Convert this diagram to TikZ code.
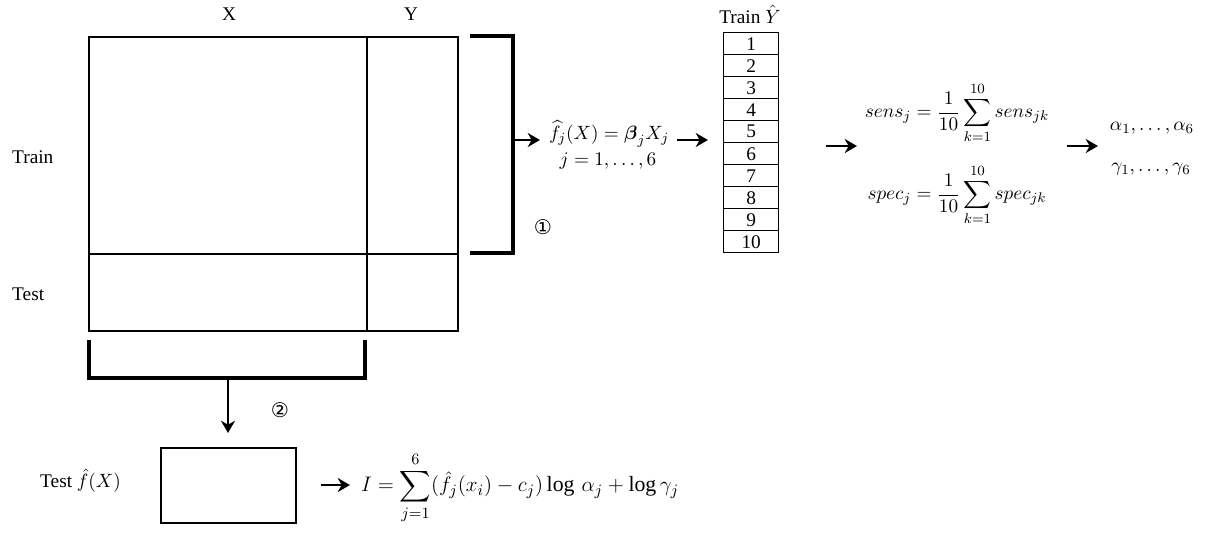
\documentclass[tikz,border=0pt]{standalone}
\usepackage{amsmath,amssymb}
\usepackage{fontspec}
\setmainfont{Liberation Serif}
\newfontfamily\circfont{DejaVu Sans}
\usetikzlibrary{arrows.meta}

\begin{document}
\begin{tikzpicture}[x=0.02cm, y=-0.02cm, font=\fontsize{11}{13}\selectfont,
    >={Stealth[length=7pt, width=8pt]},
    cell/.style={draw, line width=1.1pt, inner sep=0pt, anchor=north west},
    row/.style={draw, line width=0.8pt, inner sep=0pt, anchor=north west,
                minimum width=1.1cm, minimum height=0.44cm},
    brk/.style={line width=1.8pt},
    arr/.style={->, line width=1.6pt},
    num/.style={font=\circfont\fontsize{11.5}{13}\selectfont}]
  \useasboundingbox (0,0) rectangle (1206,532);

  % data matrix
  \node[cell, minimum width=5.56cm, minimum height=4.34cm] (trX) at (88,36) {};
  \node[cell, minimum width=1.82cm, minimum height=4.34cm] (trY) at (366,36) {};
  \node[cell, minimum width=5.56cm, minimum height=1.54cm] (teX) at (88,253) {};
  \node[cell, minimum width=1.82cm, minimum height=1.54cm] (teY) at (366,253) {};
  \node (lx) at (229,14) {X};
  \node (ly) at (411,14) {Y};
  \node[anchor=west] (ltr) at (6,157) {Train};
  \node[anchor=west] (lte) at (6,294) {Test};

  % step 1
  \draw[brk] (470,36) -- (513,36) -- (513,253) -- (470,253);
  \coordinate (b1) at (513,140);
  \coordinate (b1e) at (540,140);
  \draw[arr] (b1) -- (b1e);
  \node[num] (c1) at (543,227) {①};
  \node (fx) at (609,134) {$\widehat{f}_j(X) = \boldsymbol{\beta}_j X_j$};
  \node (fj) at (608,161) {$j = 1, \dots, 6$};
  \coordinate (a2s) at (677,140);
  \coordinate (a2e) at (708,140);
  \draw[arr] (a2s) -- (a2e);

  \node (lyh) at (750,14) {Train $\hat{Y}$};
  \foreach \k in {1,...,10}
    \node[row] (r\k) at (723, {32+22*(\k-1)}) {\k};

  \coordinate (a3s) at (826,146);
  \coordinate (a3e) at (857,146);
  \draw[arr] (a3s) -- (a3e);
  \node (sens) at (957,113)
    {$sens_j = \dfrac{1}{10}\displaystyle\sum_{k=1}^{10} sens_{jk}$};
  \node (spec) at (957,195)
    {$spec_j = \dfrac{1}{10}\displaystyle\sum_{k=1}^{10} spec_{jk}$};
  \coordinate (a4s) at (1067,146);
  \coordinate (a4e) at (1098,146);
  \draw[arr] (a4s) -- (a4e);
  \node (al) at (1152,128) {$\alpha_1, \dots, \alpha_6$};
  \node (ga) at (1151,169) {$\gamma_1, \dots, \gamma_6$};

  % step 2
  \draw[brk] (89,340) -- (89,378) -- (365,378) -- (365,340);
  \coordinate (b2) at (228,378);
  \coordinate (b2e) at (228,433);
  \draw[arr] (b2) -- (b2e);
  \node[num] (c2) at (280,410) {②};
  \node[cell, minimum width=2.7cm, minimum height=1.5cm] (tbox) at (160,447) {};
  \node[anchor=west] (ltf) at (34,481) {Test $\hat{f}(X)$};
  \coordinate (a5s) at (321,485);
  \coordinate (a5e) at (350,485);
  \draw[arr] (a5s) -- (a5e);
  \node[anchor=west, font=\fontsize{12.4}{14}\selectfont] (idx) at (355,488)
    {$I = \displaystyle\sum_{j=1}^{6} (\hat{f}_j(x_i) - c_j) \log\, \alpha_j + \log \gamma_j$};
\end{tikzpicture}
\end{document}
